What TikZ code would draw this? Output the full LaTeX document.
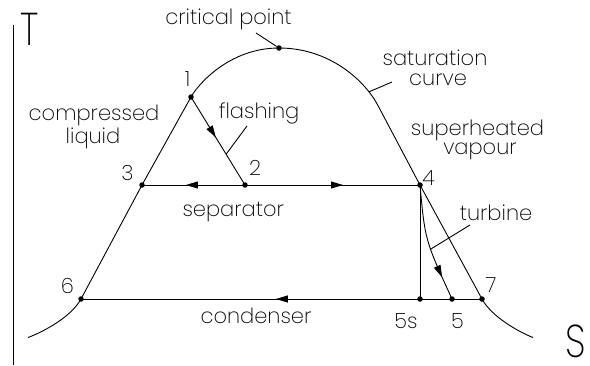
\documentclass[tikz,border=0pt]{standalone}
\usepackage{fontspec}
\setmainfont{Poppins}[UprightFont={* ExtraLight}]
\usetikzlibrary{arrows.meta,decorations.markings,calc}
\tikzset{
  ln/.style={line width=0.9pt,draw=black},
  dot/.style={circle,fill=black,inner sep=0pt,minimum size=5.5pt},
  lbl/.style={font=\fontsize{21}{21}\selectfont,inner sep=0pt,anchor=base},
  big/.style={font=\fontsize{46}{46}\selectfont,inner sep=0pt,anchor=base},
  arr/.style={decoration={markings,mark=at position #1 with {\arrow{Triangle[length=12pt,width=7pt]}}},postaction=decorate},
}
\begin{document}
\begin{tikzpicture}[x=1pt,y=-1pt]
\useasboundingbox (0,0) rectangle (590,365);
% state points
\node[dot] (n1) at (191,97) {};
\node[dot] (n2) at (245,185) {};
\node[dot] (n3) at (142,185) {};
\node[dot] (n4) at (420,185) {};
\node[dot] (n6) at (81,299) {};
\node[dot] (n5s) at (420,299) {};
\node[dot] (n5) at (452,299) {};
\node[dot] (n7) at (482,299) {};
\node[dot] (nc) at (279,48) {};
% axis
\coordinate (ax1) at (13,25);
\coordinate (ax2) at (13,365);
\draw[ln] (ax1) -- (ax2);
% saturation dome
\draw[ln] (28,337.5) .. controls (43,332) and (71.2,317) .. (n6.center) -- (n3.center) -- (n1.center)
  .. controls (197.5,85) and (229,48) .. (nc.center)
  .. controls (329,48) and (364.3,80) .. (377.7,105) coordinate[pos=0.83] (sl)
  -- (n4.center) -- (n7.center) .. controls (491.8,317) and (519,332) .. (533,337.5);
% process lines
\draw[ln,arr=0.46] (n1.center) -- (n2.center) coordinate[pos=0.65] (fl);
\draw[ln,arr=0.573] (n2.center) -- (n3.center);
\draw[ln,arr=0.56] (n2.center) -- (n4.center);
\draw[ln] (n4.center) -- (n5s.center);
\draw[ln,arr=0.8] (n4.center) .. controls (425,240) .. (n5.center) coordinate[pos=0.6] (tb);
\draw[ln,arr=0.514] (n7.center) -- (n6.center);
% leaders
\coordinate (cle) at (256,33);
\coordinate (fle) at (247,126);
\coordinate (sle) at (392,82);
\coordinate (tbe) at (470,225);
\draw[ln] (cle) -- (nc);
\draw[ln] (fl) -- (fle);
\draw[ln] (sl) -- (sle);
\draw[ln] (tb) -- (tbe);
% labels
\node[big] (tT) at (30,45) {\scalebox{0.8}[1]{T}};
\node[big] (tS) at (576,357) {\scalebox{0.8}[1]{S}};
\node[lbl] (tcrit) at (228.5,24.3) {critical point};
\node[lbl] (tcomp) at (94,120.5) {compressed};
\node[lbl] (tliq) at (93,143) {liquid};
\node[lbl] (tfl) at (259,118) {flashing};
\node[lbl] (tsat) at (435,65.7) {saturation};
\node[lbl] (tcur) at (438,85) {curve};
\node[lbl] (tsup) at (477.5,135) {superheated};
\node[lbl] (tvap) at (480,154) {vapour};
\node[lbl] (tsep) at (233.3,216) {separator};
\node[lbl] (tcon) at (256,323) {condenser};
\node[lbl] (ttur) at (496,220) {turbine};
\node[lbl] (l1) at (187.5,86.7) {1};
\node[lbl] (l2) at (255,175) {2};
\node[lbl] (l3) at (127.5,180) {3};
\node[lbl] (l4) at (428.5,185) {4};
\node[lbl] (l6) at (67.5,293) {6};
\node[lbl] (l7) at (491,292) {7};
\node[lbl] (l5s) at (406,328) {5s};
\node[lbl] (l5) at (457.5,328) {5};
\end{tikzpicture}
\end{document}
